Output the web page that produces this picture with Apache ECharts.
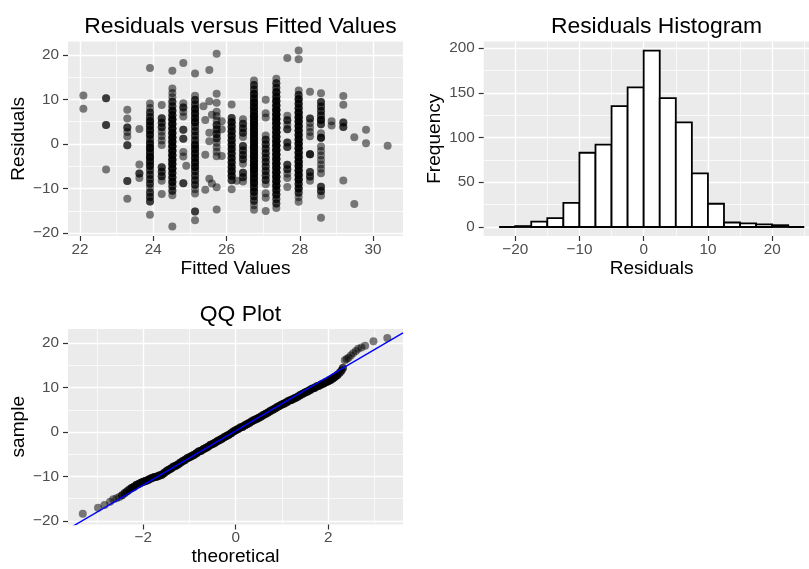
<!DOCTYPE html>
<html><head><meta charset="utf-8">
<script src="https://cdn.jsdelivr.net/npm/echarts@6/dist/echarts.min.js"></script>
<style>html,body{margin:0;padding:0;background:#fff}#c{width:809px;height:569px}</style>
</head><body><div id="c"></div>
<script>
// ---------- DATA ----------
// Residuals vs fitted: each column = one fitted value; residuals read in that column,
// with the number of observations stacked at each residual (estimated from darkness)
const fittedColumns = [22.09, 22.71, 23.29, 23.62, 23.91, 24.23, 24.52, 24.82, 24.90, 25.14, 25.37, 25.42, 25.53, 25.60, 25.73, 25.87, 26.14, 26.28, 26.45, 26.75, 27.07, 27.36, 27.66, 27.97, 28.28, 28.58, 28.87, 29.19, 29.49, 29.81, 30.40];
const residualColumns = [
  [10.91, 7.91],
  [10.29, 4.29, -5.71],
  [7.71, 5.71, 3.71, 2.71, 1.71, -0.29, -8.29, -12.29],
  [3.38, -4.62, -6.62, -7.62],
  [17.09, 9.09, 8.09, 7.09, 6.09, 5.09, 4.09, 3.09, 2.09, 1.09, 0.09, -0.91, -1.91, -2.91, -3.91, -4.91, -5.91, -6.91, -7.91, -8.91, -9.91, -10.91, -11.91, -12.91, -15.91],
  [8.77, 5.77, 4.77, 3.77, 2.77, 1.77, 0.77, -0.23, -5.23, -6.23, -7.23, -8.23, -11.23],
  [16.48, 12.48, 11.48, 10.48, 9.48, 8.48, 7.48, 6.48, 5.48, 4.48, 3.48, 2.48, 1.48, 0.48, -0.52, -1.52, -2.52, -3.52, -4.52, -5.52, -6.52, -7.52, -8.52, -9.52, -10.52, -11.52, -18.52],
  [18.18, 9.18, 8.18, 7.18, 6.18, 3.18, 1.18, -1.82, -2.82, -8.82],
  [-4.9],
  [15.86, 10.86, 9.86, 8.86, 7.86, 6.86, 5.86, 4.86, 3.86, 2.86, 1.86, 0.86, -0.14, -1.14, -2.14, -3.14, -4.14, -5.14, -6.14, -7.14, -8.14, -9.14, -10.14, -11.14, -15.14, -17.14],
  [8.5],
  [5.4, -2.4, -10.3],
  [16.6, 9.6, 2.5, 0.6, -7.8],
  [6.6, -8.9],
  [20.27, 11.27, 9.27, 7.27, 6.27, 5.27, 4.27, 3.27, 2.27, 1.27, 0.27, -0.73, -1.73, -2.73, -9.73, -14.73],
  [5.1, 3.3, -2.7],
  [8.86, 5.86, 4.86, 3.86, 2.86, 1.86, 0.86, -0.14, -1.14, -2.14, -3.14, -4.14, -5.14, -6.14, -7.14, -8.14, -10.14],
  [-8.28],
  [5.55, 4.55, 3.55, 2.55, 1.55, -0.45, -1.45, -2.45, -3.45, -4.45, -6.45, -7.45, -8.45],
  [14.25, 13.25, 12.25, 11.25, 10.25, 9.25, 8.25, 7.25, 6.25, 5.25, 4.25, 3.25, 2.25, 1.25, 0.25, -0.75, -1.75, -2.75, -3.75, -4.75, -5.75, -6.75, -7.75, -8.75, -9.75, -10.75, -11.75, -12.75, -13.75, -14.75],
  [9.93, 6.93, 5.93, 1.93, 0.93, -0.07, -1.07, -2.07, -3.07, -4.07, -5.07, -6.07, -7.07, -8.07, -9.07, -11.07, -12.07, -15.07],
  [14.64, 13.64, 12.64, 11.64, 10.64, 9.64, 8.64, 7.64, 6.64, 5.64, 4.64, 3.64, 2.64, 1.64, 0.64, -0.36, -1.36, -2.36, -3.36, -4.36, -5.36, -6.36, -7.36, -8.36, -9.36, -10.36, -11.36, -12.36, -13.36, -14.36],
  [19.34, 6.34, 5.34, 4.34, 3.34, 0.34, -0.66, -4.66, -5.66, -6.66, -7.66, -9.66],
  [21.03, 19.03, 12.03, 11.03, 10.03, 9.03, 8.03, 7.03, 6.03, 5.03, 4.03, 3.03, 2.03, 1.03, 0.03, -0.97, -1.97, -2.97, -3.97, -4.97, -5.97, -6.97, -7.97, -8.97, -9.97, -10.97, -11.97, -12.97],
  [11.72, 5.72, 4.72, 3.72, 2.72, 1.72, -2.28, -6.28, -7.28, -8.28],
  [11.42, 9.42, 8.42, 7.42, 6.42, 5.42, 4.42, 2.42, 1.42, -0.58, -1.58, -2.58, -3.58, -4.58, -5.58, -6.58, -9.58, -10.58, -11.58, -16.58],
  [5.13, 4.13],
  [10.81, 8.81, 4.81, 3.81, -8.19],
  [1.51, -13.49],
  [3.19, 0.19],
  [-0.4]
];
const countColumns = [
  [1, 1],
  [2, 2, 1],
  [1, 1, 2, 1, 1, 2, 2, 1],
  [1, 1, 2, 1],
  [1, 1, 1, 2, 2, 3, 3, 3, 3, 2, 3, 4, 3, 4, 3, 3, 2, 2, 2, 2, 1, 2, 2, 2, 1],
  [1, 2, 2, 2, 1, 1, 1, 1, 2, 2, 2, 1, 1],
  [1, 1, 1, 1, 2, 2, 3, 3, 4, 4, 4, 4, 4, 4, 4, 4, 4, 4, 4, 4, 3, 3, 3, 2, 2, 1, 1],
  [1, 1, 2, 1, 1, 2, 2, 1, 1, 2],
  [1],
  [1, 1, 2, 2, 3, 3, 3, 3, 2, 2, 2, 2, 3, 3, 3, 3, 3, 3, 2, 2, 2, 2, 1, 1, 2, 1],
  [1],
  [1, 1, 1],
  [1, 1, 1, 1, 1],
  [1, 1],
  [1, 1, 1, 1, 1, 1, 2, 2, 2, 2, 1, 1, 1, 1, 1, 1],
  [1, 1, 1],
  [1, 2, 3, 3, 3, 3, 3, 3, 3, 3, 3, 3, 3, 3, 3, 2, 1],
  [1],
  [1, 2, 2, 2, 1, 2, 2, 2, 2, 1, 2, 2, 1],
  [1, 2, 2, 3, 3, 4, 4, 4, 5, 5, 5, 5, 5, 5, 5, 5, 5, 5, 5, 5, 5, 4, 4, 4, 3, 3, 2, 2, 1, 1],
  [1, 1, 1, 1, 2, 2, 2, 2, 2, 2, 2, 2, 2, 2, 1, 1, 1, 1],
  [1, 2, 2, 3, 3, 4, 4, 5, 5, 5, 5, 5, 5, 5, 5, 5, 5, 5, 5, 5, 5, 5, 5, 4, 4, 3, 3, 2, 2, 1],
  [1, 1, 2, 1, 2, 2, 2, 2, 2, 1, 1, 1],
  [1, 1, 1, 2, 3, 3, 3, 4, 4, 4, 4, 4, 4, 4, 4, 4, 4, 4, 4, 4, 4, 4, 4, 3, 3, 2, 1, 1],
  [1, 2, 1, 1, 1, 1, 3, 2, 2, 1],
  [1, 2, 2, 2, 2, 3, 2, 1, 3, 1, 1, 1, 1, 1, 1, 1, 2, 2, 1, 1],
  [1, 1],
  [1, 1, 2, 2, 1],
  [1, 1],
  [1, 1],
  [1]
];

// Histogram of residuals (binwidth 2.5)
const histBreaks = [-22.5, -20, -17.5, -15, -12.5, -10, -7.5, -5, -2.5, 0, 2.5, 5, 7.5, 10, 12.5, 15, 17.5, 20, 22.5, 25];
const histCounts = [0, 1, 6, 10, 27, 83, 92, 135, 156, 197, 144, 117, 60, 26, 5, 4, 3, 2, 0];

// QQ plot: theoretical quantile vs sample quantile, and observations represented by each point
const qqTheoretical = [-3.31, -2.98, -2.84, -2.72, -2.65, -2.58, -2.52, -2.46, -2.40, -2.35, -2.30, -2.25, -2.20, -2.15, -2.10, -2.05, -2.00, -1.95, -1.90, -1.85, -1.80, -1.75, -1.70, -1.65, -1.60, -1.55, -1.50, -1.45, -1.40, -1.35, -1.30, -1.25, -1.20, -1.15, -1.10, -1.05, -1.00, -0.95, -0.90, -0.85, -0.80, -0.75, -0.70, -0.65, -0.60, -0.55, -0.50, -0.45, -0.40, -0.35, -0.30, -0.25, -0.20, -0.15, -0.10, -0.05, 0.00, 0.05, 0.10, 0.15, 0.20, 0.25, 0.30, 0.35, 0.40, 0.45, 0.50, 0.55, 0.60, 0.65, 0.70, 0.75, 0.80, 0.85, 0.90, 0.95, 1.00, 1.05, 1.10, 1.15, 1.20, 1.25, 1.30, 1.35, 1.40, 1.45, 1.50, 1.55, 1.60, 1.65, 1.70, 1.75, 1.80, 1.85, 1.90, 1.95, 2.00, 2.05, 2.10, 2.15, 2.20, 2.25, 2.29, 2.32, 2.36, 2.40, 2.44, 2.49, 2.54, 2.60, 2.65, 2.72, 2.80, 2.98, 3.28];
const qqSample = [-18.4, -17.0, -16.4, -15.7, -15.1, -14.9, -14.6, -14.2, -13.7, -13.3, -12.9, -12.6, -12.3, -11.9, -11.7, -11.4, -11.2, -11.0, -10.8, -10.5, -10.3, -10.1, -10.0, -9.8, -9.6, -9.2, -8.8, -8.5, -8.2, -7.8, -7.6, -7.3, -6.9, -6.6, -6.3, -5.9, -5.7, -5.4, -5.1, -4.8, -4.4, -4.2, -3.9, -3.6, -3.3, -2.9, -2.7, -2.4, -2.1, -1.8, -1.5, -1.2, -0.9, -0.6, -0.3, 0.1, 0.4, 0.7, 1.0, 1.2, 1.5, 1.8, 2.1, 2.4, 2.7, 2.9, 3.2, 3.5, 3.8, 4.1, 4.4, 4.7, 5.0, 5.3, 5.6, 5.9, 6.2, 6.4, 6.7, 7.0, 7.2, 7.5, 7.7, 8.0, 8.3, 8.6, 8.9, 9.1, 9.4, 9.7, 9.9, 10.2, 10.4, 10.7, 10.9, 11.2, 11.4, 11.7, 12.0, 12.4, 12.8, 13.3, 13.8, 14.4, 16.1, 16.4, 16.7, 17.2, 17.7, 18.2, 18.7, 19.0, 19.4, 20.4, 21.1];
const qqCounts = [1, 1, 1, 1, 1, 1, 1, 2, 2, 2, 2, 3, 3, 3, 3, 3, 3, 3, 3, 3, 3, 3, 3, 3, 3, 3, 3, 3, 3, 3, 3, 3, 3, 3, 3, 3, 3, 3, 3, 3, 3, 3, 3, 3, 3, 3, 3, 3, 3, 3, 3, 3, 3, 3, 3, 3, 3, 3, 3, 3, 3, 3, 3, 3, 3, 3, 3, 3, 3, 3, 3, 3, 3, 3, 3, 3, 3, 3, 3, 3, 3, 3, 3, 3, 3, 3, 3, 3, 3, 3, 3, 3, 3, 3, 3, 3, 3, 3, 3, 3, 3, 2, 2, 2, 1, 1, 1, 1, 1, 1, 1, 1, 1, 1, 1];
// Reference line endpoints (theoretical, sample)
const qqLineTheoretical = [-3.63, 3.62];
const qqLineSample = [-21.82, 22.26];

// Tick labels
const scatterXTicks = [22, 24, 26, 28, 30];
const scatterYTicks = [-20, -10, 0, 10, 20];
const histXTicks = [-20, -10, 0, 10, 20];
const histYTicks = [0, 50, 100, 150, 200];
const qqXTicks = [-2, 0, 2];
const qqYTicks = [-20, -10, 0, 10, 20];

// ---------- CHART ----------
const FONT = '"Liberation Sans", Arial, Helvetica, sans-serif';
const minus = v => (v < 0 ? '\u2212' + Math.abs(v) : String(v));

function axis(gridIndex, min, max, step, ticks, name, nameGap, isY) {
  return {
    type: 'value', gridIndex, min, max, minInterval: step, maxInterval: step, splitNumber: 5,
    position: isY ? 'left' : 'bottom',
    name, nameLocation: 'middle', nameGap, nameRotate: isY ? 90 : 0,
    nameTextStyle: { color: '#000', fontSize: 19.1, fontFamily: FONT },
    axisLine: { show: false, onZero: false },
    axisTick: { show: true, length: 5, customValues: ticks, lineStyle: { color: '#333333', width: 1.2 } },
    axisLabel: { customValues: ticks, formatter: minus, color: '#4D4D4D', fontSize: 15.3, fontFamily: FONT, margin: isY ? 9 : 6 },
    splitLine: { show: true, lineStyle: { color: '#FFFFFF', width: 1.4 } },
    minorTick: { show: false, splitNumber: 2 },
    minorSplitLine: { show: true, lineStyle: { color: '#FFFFFF', width: 0.7 } }
  };
}

// one mark per observation (stacked observations share a position)
const scatterData = [];
fittedColumns.forEach((f, i) => residualColumns[i].forEach((r, j) => {
  for (let n = 0; n < countColumns[i][j]; n++) scatterData.push([f, r]);
}));
const histData = histCounts.map((c, i) => [histBreaks[i], histBreaks[i + 1], c]);
const qqData = [];
qqTheoretical.forEach((t, i) => { for (let n = 0; n < qqCounts[i]; n++) qqData.push([t, qqSample[i]]); });
const qqLineData = qqLineTheoretical.map((t, i) => [t, qqLineSample[i]]);

const gridCommon = { show: true, backgroundColor: '#EBEBEB', borderWidth: 0, containLabel: false, outerBoundsMode: 'none' };
const pointStyle = { color: '#000000', opacity: 0.5, borderWidth: 0 };

const chart = echarts.init(document.getElementById('c'), null, { renderer: 'canvas' });
chart.setOption({
  animation: false,
  backgroundColor: '#FFFFFF',
  title: [
    { text: 'Residuals versus Fitted Values', left: 235.5, top: 10, textAlign: 'center', textStyle: { color: '#000', fontSize: 22.9, fontWeight: 'normal', fontFamily: FONT } },
    { text: 'Residuals Histogram', left: 651.5, top: 10, textAlign: 'center', textStyle: { color: '#000', fontSize: 22.9, fontWeight: 'normal', fontFamily: FONT } },
    { text: 'QQ Plot', left: 235.5, top: 298, textAlign: 'center', textStyle: { color: '#000', fontSize: 22.9, fontWeight: 'normal', fontFamily: FONT } }
  ],
  grid: [
    Object.assign({ left: 68, top: 41.5, width: 335, height: 194.5 }, gridCommon),
    Object.assign({ left: 483.7, top: 41.5, width: 335.7, height: 194.5 }, gridCommon),
    Object.assign({ left: 68, top: 329, width: 335, height: 195.5 }, gridCommon)
  ],
  xAxis: [
    axis(0, 21.67, 30.82, 2, scatterXTicks, 'Fitted Values', 23, false),
    axis(1, -24.9, 27.35, 10, histXTicks, 'Residuals', 23, false),
    axis(2, -3.63, 3.62, 2, qqXTicks, 'theoretical', 23, false)
  ],
  yAxis: [
    axis(0, -20.67, 23.03, 10, scatterYTicks, 'Residuals', 40, true),
    axis(1, -10.06, 207.3, 50, histYTicks, 'Frequency', 39, true),
    axis(2, -20.79, 23.15, 10, qqYTicks, 'sample', 40, true)
  ],
  series: [
    {
      type: 'scatter', xAxisIndex: 0, yAxisIndex: 0, data: scatterData,
      symbol: 'circle', symbolSize: 8, itemStyle: pointStyle, silent: true, large: false
    },
    {
      type: 'custom', xAxisIndex: 1, yAxisIndex: 1, data: histData,
      encode: { x: [0, 1], y: 2 }, silent: true,
      renderItem: function (params, api) {
        const p0 = api.coord([api.value(0), 0]);
        const p1 = api.coord([api.value(1), api.value(2)]);
        return {
          type: 'rect',
          shape: { x: p0[0], y: p1[1], width: p1[0] - p0[0], height: p0[1] - p1[1] },
          style: { fill: '#FFFFFF', stroke: '#000000', lineWidth: 1.8 }
        };
      }
    },
    {
      type: 'scatter', xAxisIndex: 2, yAxisIndex: 2, data: qqData,
      symbol: 'circle', symbolSize: 8, itemStyle: pointStyle, silent: true, large: false
    },
    {
      type: 'line', xAxisIndex: 2, yAxisIndex: 2, data: qqLineData, clip: true,
      symbol: 'none', lineStyle: { color: '#0000FF', width: 1.4 }, silent: true, z: 3
    }
  ]
});
</script>
</body></html>
